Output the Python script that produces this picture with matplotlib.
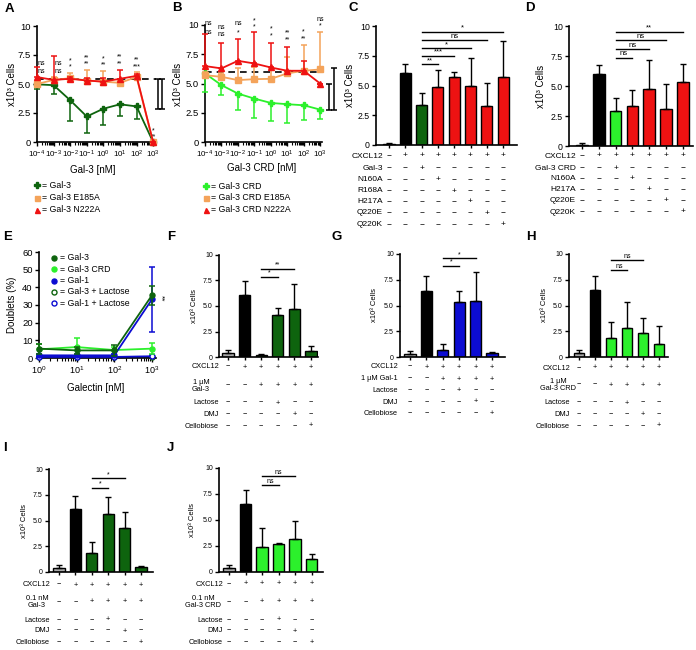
import numpy as np
import matplotlib
matplotlib.use('Agg')
import matplotlib.pyplot as plt
from matplotlib import transforms
from matplotlib.ticker import LogLocator, NullFormatter

plt.rcParams['font.family'] = ['Liberation Sans', 'DejaVu Sans']
plt.rcParams['mathtext.fontset'] = 'custom'
plt.rcParams['mathtext.rm'] = 'Liberation Sans'
plt.rcParams['mathtext.it'] = 'Liberation Sans:italic'
plt.rcParams['mathtext.bf'] = 'Liberation Sans:bold'
plt.rcParams['mathtext.default'] = 'regular'

# ---------------- data ----------------
conc = [1e-4, 1e-3, 1e-2, 1e-1, 1, 10, 100, 1000]
conc_labels = ['$10^{-4}$', '$10^{-3}$', '$10^{-2}$', '$10^{-1}$',
               '$10^{0}$', '$10^{1}$', '$10^{2}$', '$10^{3}$']

# Panel A
a_gal3 = [4.97, 4.9, 3.6, 2.2, 2.87, 3.25, 3.07, 0.0]
a_gal3_lo = [0.37, 0.8, 1.8, 1.4, 1.42, 1.0, 1.07, 0.0]
a_e185a = [5.0, 5.35, 5.5, 5.3, 5.2, 5.1, 5.6, 0.0]
a_e185a_hi = [0.3, 0.25, 0.45, 0.9, 0.9, 0.35, 0.4, 0.0]
a_n222a = [5.6, 5.35, 5.45, 5.3, 5.2, 5.45, 5.7, 0.0]
a_n222a_hi = [0.9, 2.05, 0.15, 0.2, 0.3, 0.75, 0.2, 0.0]
a_ctrl = 5.4
a_ctrl_bars = [(2.85, 5.45), (2.85, 5.45)]
a_sig_top = ['ns', 'ns', '*', '**', '*', '**', '**', '*']
a_sig_bot = ['ns', 'ns', '*', '**', '**', '**', '***', '**']
a_sig_top_y = [6.8, 6.8, 7.0, 7.25, 7.15, 7.3, 7.1, 0.95]
a_sig_bot_y = [6.1, 6.05, 6.45, 6.7, 6.65, 6.75, 6.5, 0.4]

# Panel B
b_crd = [5.86, 4.86, 4.14, 3.71, 3.34, 3.23, 3.14, 2.77]
b_crd_lo = [1.56, 0.86, 1.37, 1.62, 1.54, 1.6, 1.23, 0.77]
b_e185a = [5.71, 5.57, 5.29, 5.37, 5.4, 5.86, 6.09, 6.2]
b_e185a_hi = [0.3, 0.33, 1.0, 1.03, 0.9, 1.44, 2.21, 3.2]
b_n222a = [6.49, 6.29, 6.94, 6.71, 6.37, 6.09, 6.09, 5.0]
b_n222a_hi = [2.71, 2.21, 1.86, 2.69, 2.13, 2.05, 0.81, 0.0]
b_ctrl = 6.0
b_ctrl_bars = [(2.7, 5.0), (2.7, 6.3)]
b_sig_top = ['ns', 'ns', 'ns', '*', '*', '**', '*', 'ns']
b_sig_bot = ['ns', 'ns', '*', '*', '*', '**', '**', '*']
b_sig_top_y = [10.1, 9.75, 10.1, 10.35, 9.65, 9.3, 9.4, 10.5]
b_sig_bot_y = [9.4, 9.15, 9.35, 9.8, 9.1, 8.75, 8.85, 9.95]

# Panel C
c_means = [0.1, 6.05, 3.35, 4.85, 5.75, 4.95, 3.3, 5.7]
c_sd = [0.05, 0.73, 0.99, 1.45, 0.35, 2.33, 1.88, 3.07]
c_rows = ['CXCL12', 'Gal-3', 'N160A', 'R168A', 'H217A', 'Q220E', 'Q220K']
c_signs = ['-+++++++', '--+-----', '---+----', '----+---', '-----+--', '------+-', '-------+']
c_cmp = [(2, 3, '**', 6.78), (2, 4, '***', 7.5), (2, 5, '*', 8.12), (2, 6, 'ns', 8.82), (2, 7, '*', 9.52)]

# Panel D
d_means = [0.08, 5.97, 2.92, 3.36, 4.72, 3.11, 5.33]
d_sd = [0.17, 0.75, 1.11, 1.28, 2.47, 2.08, 1.53]
d_rows = ['CXCL12', 'Gal-3 CRD', 'N160A', 'H217A', 'Q220E', 'Q220K']
d_signs = ['-++++++', '--+----', '---+---', '----+--', '-----+-', '------+']
d_cmp = [(2, 3, 'ns', 7.36), (2, 4, 'ns', 8.05), (2, 5, 'ns', 8.8), (2, 6, '**', 9.5)]

# Panel E
e_conc = [1, 10, 100, 1000]
e_conc_labels = ['$10^{0}$', '$10^{1}$', '$10^{2}$', '$10^{3}$']
e_gal3 = [5.3, 4.3, 4.3, 35.5]
e_gal3_sd = [2.8, 2.0, 2.9, 5.5]
e_crd = [4.9, 6.2, 4.5, 5.3]
e_crd_sd = [3.0, 5.3, 2.0, 3.2]
e_gal1 = [1.5, 1.5, 1.5, 33.2]
e_gal1_sd = [0.8, 0.8, 0.8, 18.5]
e_gal3_lac = [0.8, 0.8, 0.8, 0.8]
e_gal3_lac_sd = [0.5, 0.5, 0.5, 0.5]
e_gal1_lac = [0.6, 0.6, 0.6, 1.0]
e_gal1_lac_sd = [0.4, 0.4, 0.4, 0.5]

# Panels F-J
f_means = [0.4, 6.1, 0.16, 4.14, 4.69, 0.62]
f_sd = [0.25, 1.36, 0.17, 0.71, 2.48, 0.42]
f_cmp = [(2, 3, '*', 7.85), (2, 4, '**', 8.65)]
g_means = [0.3, 6.45, 0.68, 5.38, 5.45, 0.35]
g_sd = [0.25, 1.45, 0.57, 1.07, 2.8, 0.1]
g_cmp = [(2, 3, '*', 8.85), (2, 4, '*', 9.6)]
h_means = [0.42, 6.52, 1.89, 2.77, 2.35, 1.3]
h_sd = [0.25, 1.38, 1.53, 2.6, 1.46, 1.7]
h_cmp = [(2, 3, 'ns', 8.4), (2, 4, 'ns', 9.38)]
i_means = [0.42, 6.16, 1.82, 5.63, 4.3, 0.49]
i_sd = [0.23, 1.23, 1.08, 1.63, 1.5, 0.08]
i_cmp = [(2, 3, '*', 8.2), (2, 4, '*', 9.1)]
j_means = [0.42, 6.55, 2.42, 2.65, 3.13, 1.23]
j_sd = [0.23, 1.35, 1.77, 0.15, 1.81, 0.48]
j_cmp = [(2, 3, 'ns', 8.32), (2, 4, 'ns', 9.19)]

inh_signs = ['-+++++', '--++++', '---+--', '----+-', '-----+']
f_rows = ['CXCL12', '1 µM\nGal-3', 'Lactose', 'DMJ', 'Cellobiose']
g_rows = ['CXCL12', '1 µM Gal-1', 'Lactose', 'DMJ', 'Cellobiose']
h_rows = ['CXCL12', '1 µM\nGal-3 CRD', 'Lactose', 'DMJ', 'Cellobiose']
i_rows = ['CXCL12', '0.1 nM\nGal-3', 'Lactose', 'DMJ', 'Cellobiose']
j_rows = ['CXCL12', '0.1 nM\nGal-3 CRD', 'Lactose', 'DMJ', 'Cellobiose']

# ---------------- style ----------------
DG = '#0e640e'
LG = '#2cf02c'
RED = '#ee1212'
ORG = '#f4a35a'
BLUE = '#0c0cd2'
GRAY = '#a8a8a8'

W, H = 696, 650
fig = plt.figure(figsize=(W / 100, H / 100), dpi=100)


def ax_px(l, t, r, b):
    return fig.add_axes([l / W, 1 - b / H, (r - l) / W, (b - t) / H])


def ftext(x, y, s, **kw):
    return fig.text(x / W, 1 - y / H, s, **kw)


def style(ax, fs):
    for s in ['top', 'right']:
        ax.spines[s].set_visible(False)
    for s in ['left', 'bottom']:
        ax.spines[s].set_linewidth(1.2)
    ax.tick_params(direction='out', length=3, width=1.0, labelsize=fs, pad=1.5)


def noclip(eb):
    for a in eb.lines[1]:
        a.set_clip_on(False)
    for a in eb.lines[2]:
        a.set_clip_on(False)


def series(ax, x, y, lo, hi, color, marker, ms, z, mfc=None):
    ax.plot(x, y, color=color, lw=1.3, marker=marker, ms=ms, mec=color,
            mfc=color if mfc is None else mfc, mew=1.0, clip_on=False, zorder=z + 0.5)
    eb = ax.errorbar(x, y, yerr=[lo, hi], fmt='none', ecolor=color, elinewidth=1.1,
                     capsize=2.2, capthick=1.1, zorder=z)
    noclip(eb)


def fig_marker(x, y, marker, color, ms, mfc=None):
    fig.add_artist(plt.Line2D([x / W], [1 - y / H], marker=marker, color=color, ms=ms,
                              mfc=color if mfc is None else mfc, mew=1.0,
                              linestyle='none', transform=fig.transFigure))


def log_axes(ax):
    ax.set_xscale('log')
    ax.xaxis.set_minor_locator(LogLocator(base=10, subs=np.arange(2, 10), numticks=30))
    ax.xaxis.set_minor_formatter(NullFormatter())
    ax.tick_params(axis='x', which='minor', length=1.8, width=0.8)


ylabel_cells = 'x10³ Cells'

# ---------------- Panel A ----------------
axA = ax_px(37, 26, 155, 142)
style(axA, 6.8)
log_axes(axA)
axA.set_xlim(1e-4, 1.3e3)
axA.set_ylim(0, 10)
axA.set_xticks(conc)
axA.set_xticklabels(conc_labels, fontsize=5.8)
axA.set_yticks([0, 2.5, 5, 7.5, 10])
axA.set_yticklabels(['0', '2.5', '5.0', '7.5', '10'])
axA.plot([1e-4, 1.6e3], [a_ctrl, a_ctrl], color='k', lw=1.2, dashes=(4, 3), clip_on=False, zorder=1)
for xp, (lo, hi) in zip([1.9e3, 3.4e3], a_ctrl_bars):
    eb = axA.errorbar([xp], [(lo + hi) / 2], yerr=[(hi - lo) / 2], fmt='none', ecolor='k',
                      elinewidth=1.1, capsize=2.5, capthick=1.1)
    noclip(eb)
series(axA, conc, a_gal3, a_gal3_lo, [0] * 8, DG, 'P', 4, 3)
series(axA, conc, a_e185a, [0] * 8, a_e185a_hi, ORG, 's', 3.8, 4)
series(axA, conc, a_n222a, [0] * 8, a_n222a_hi, RED, '^', 3.8, 5)
a_sig_x = [1.9e-4, 1.9e-3] + conc[2:]
for xs, t1, t2, y1, y2 in zip(a_sig_x, a_sig_top, a_sig_bot, a_sig_top_y, a_sig_bot_y):
    axA.text(xs, y1, t1, ha='center', va='center', fontsize=5, clip_on=False)
    axA.text(xs, y2, t2, ha='center', va='center', fontsize=5, clip_on=False)
ftext(12, 84, ylabel_cells, rotation=90, ha='center', va='center', fontsize=7)
ftext(93, 170, 'Gal-3 [nM]', ha='center', va='center', fontsize=7)
fig_marker(37, 185, 'P', DG, 3.8)
fig_marker(37, 198, 's', ORG, 3.6)
fig_marker(37, 210, '^', RED, 3.6)
ftext(42, 185, '= Gal-3', ha='left', va='center', fontsize=6.3)
ftext(42, 198, '= Gal-3 E185A', ha='left', va='center', fontsize=6.3)
ftext(42, 210, '= Gal-3 N222A', ha='left', va='center', fontsize=6.3)

# ---------------- Panel B ----------------
axB = ax_px(205, 25, 322, 142)
style(axB, 6.8)
log_axes(axB)
axB.set_xlim(1e-4, 1.3e3)
axB.set_ylim(0, 10)
axB.set_xticks(conc)
axB.set_xticklabels(conc_labels, fontsize=5.8)
axB.set_yticks([0, 2.5, 5, 7.5, 10])
axB.set_yticklabels(['0', '2.5', '5.0', '7.5', '10'])
axB.plot([1e-4, 1.6e3], [b_ctrl, b_ctrl], color='k', lw=1.2, dashes=(4, 3), clip_on=False, zorder=1)
for xp, (lo, hi) in zip([3.3e3, 7.4e3], b_ctrl_bars):
    eb = axB.errorbar([xp], [(lo + hi) / 2], yerr=[(hi - lo) / 2], fmt='none', ecolor='k',
                      elinewidth=1.1, capsize=2.5, capthick=1.1)
    noclip(eb)
series(axB, conc, b_crd, b_crd_lo, [0] * 8, LG, 'P', 4, 3)
series(axB, conc, b_e185a, [0] * 8, b_e185a_hi, ORG, 's', 3.8, 4)
series(axB, conc, b_n222a, [0] * 8, b_n222a_hi, RED, '^', 3.8, 5)
b_sig_x = [1.6e-4] + conc[1:]
for xs, t1, t2, y1, y2 in zip(b_sig_x, b_sig_top, b_sig_bot, b_sig_top_y, b_sig_bot_y):
    axB.text(xs, y1, t1, ha='center', va='center', fontsize=5, clip_on=False)
    axB.text(xs, y2, t2, ha='center', va='center', fontsize=5, clip_on=False)
ftext(178, 84, ylabel_cells, rotation=90, ha='center', va='center', fontsize=7)
ftext(262, 168, 'Gal-3 CRD [nM]', ha='center', va='center', fontsize=7)
fig_marker(206, 186, 'P', LG, 3.8)
fig_marker(206, 198, 's', ORG, 3.6)
fig_marker(206, 210, '^', RED, 3.6)
ftext(211, 186, '= Gal-3 CRD', ha='left', va='center', fontsize=6.3)
ftext(211, 198, '= Gal-3 CRD E185A', ha='left', va='center', fontsize=6.3)
ftext(211, 210, '= Gal-3 CRD N222A', ha='left', va='center', fontsize=6.3)


# ---------------- bar panels ----------------
def bar_panel(rect, x0, dx, means, sd, colors, cmp, rows, signs, row_y, row_x, row_ha,
              fs_tick, fs_row, fs_sig, ylab_x, ylab_fs):
    l, t, r, b = rect
    ax = ax_px(l, t, r, b)
    style(ax, fs_tick)
    n = len(means)
    x = np.arange(n)
    ax.set_xlim((l - x0) / dx, (r - x0) / dx)
    ax.set_ylim(0, 10)
    ax.bar(x, means, width=0.68, color=colors, edgecolor='black', linewidth=1.0, zorder=2)
    eb = ax.errorbar(x, means, yerr=[np.zeros(n), sd], fmt='none', ecolor='black',
                     elinewidth=1.0, capsize=2.0, capthick=1.0, zorder=3)
    noclip(eb)
    ax.set_xticks(x)
    ax.set_xticklabels([])
    ax.tick_params(axis='x', length=2.5)
    ax.set_yticks([0, 2.5, 5, 7.5, 10])
    ax.set_yticklabels(['0', '2.5', '5.0', '7.5', '10'])
    for i, j, s, y in cmp:
        ax.plot([i, j], [y, y], color='k', lw=1.0, clip_on=False)
        ax.text((i + j) / 2, y + 0.02, s, ha='center', va='bottom', fontsize=fs_sig, clip_on=False)
    tr = transforms.blended_transform_factory(ax.transData, fig.transFigure)
    for lab, sg, y, lx, ha in zip(rows, signs, row_y, row_x, row_ha):
        ftext(lx, y, lab, ha=ha, va='center', fontsize=fs_row, multialignment='center',
              linespacing=1.0)
        for k, c in enumerate(sg):
            ax.text(k, 1 - y / H, '\u2212' if c == '-' else '+', transform=tr, ha='center',
                    va='center', fontsize=fs_row, clip_on=False)
    ftext(ylab_x, (t + b) / 2, ylabel_cells, rotation=90, ha='center', va='center', fontsize=ylab_fs)
    return ax


c_colors = [GRAY, 'black', DG] + [RED] * 5
bar_panel((376, 26, 517, 145), 389, 16.3, c_means, c_sd, c_colors, c_cmp, c_rows, c_signs,
          [156, 168, 179.5, 191, 202, 213, 224.5], [383] * 7, ['right'] * 7,
          6.3, 6.0, 5.5, 350, 7)

d_colors = [GRAY, 'black', LG] + [RED] * 4
bar_panel((569, 26, 693, 146), 582, 16.8, d_means, d_sd, d_colors, d_cmp, d_rows, d_signs,
          [156, 168, 178.5, 189.5, 200.5, 212], [576] * 6, ['right'] * 6,
          6.3, 6.0, 5.5, 541, 7)

bar_panel((219, 255, 318, 357), 228, 16.6, f_means, f_sd, [GRAY, 'black'] + [DG] * 4, f_cmp,
          f_rows, inh_signs, [367, 386, 403, 414.5, 426], [219, 201, 219, 219, 219],
          ['right', 'center', 'right', 'right', 'right'], 5.0, 5.3, 5.0, 194, 5.5)

bar_panel((400, 254, 505, 357), 410, 16.4, g_means, g_sd, [GRAY, 'black'] + [BLUE] * 4, g_cmp,
          g_rows, inh_signs, [367, 379, 390.5, 402, 413.5], [398] * 5, ['right'] * 5,
          5.0, 5.3, 5.0, 374, 5.5)

bar_panel((569, 254, 668, 357), 579, 16.0, h_means, h_sd, [GRAY, 'black'] + [LG] * 4, h_cmp,
          h_rows, inh_signs, [368, 385, 403, 414.5, 426], [570, 558, 570, 570, 570],
          ['right', 'center', 'right', 'right', 'right'], 5.0, 5.3, 5.0, 544, 5.5)

bar_panel((49, 469, 153, 572), 59, 16.4, i_means, i_sd, [GRAY, 'black'] + [DG] * 4, i_cmp,
          i_rows, inh_signs, [585, 602, 620, 631, 642.5], [50, 37, 50, 50, 50],
          ['right', 'center', 'right', 'right', 'right'], 5.0, 5.3, 5.0, 24, 5.5)

bar_panel((219, 468, 323, 572), 229, 16.5, j_means, j_sd, [GRAY, 'black'] + [LG] * 4, j_cmp,
          j_rows, inh_signs, [584, 602, 620, 631, 642.5], [223, 203, 223, 223, 223],
          ['right', 'center', 'right', 'right', 'right'], 5.0, 5.3, 5.0, 192, 5.5)

# ---------------- Panel E ----------------
axE = ax_px(39, 252, 156, 358)
style(axE, 6.8)
log_axes(axE)
axE.set_xlim(1, 1.28e3)
axE.set_ylim(0, 60)
axE.set_xticks(e_conc)
axE.set_xticklabels(e_conc_labels, fontsize=6.5)
axE.set_yticks([0, 10, 20, 30, 40, 50, 60])
series(axE, e_conc, e_gal3_lac, e_gal3_lac_sd, e_gal3_lac_sd, DG, 'o', 3.6, 2, mfc='white')
series(axE, e_conc, e_gal1_lac, e_gal1_lac_sd, e_gal1_lac_sd, BLUE, 'o', 3.6, 2.2, mfc='white')
series(axE, e_conc, e_crd, e_crd_sd, e_crd_sd, LG, 'o', 3.6, 3)
series(axE, e_conc, e_gal1, e_gal1_sd, e_gal1_sd, BLUE, 'o', 3.6, 4)
series(axE, e_conc, e_gal3, e_gal3_sd, e_gal3_sd, DG, 'o', 3.6, 5)
axE.text(1.75e3, 34, '**', rotation=-90, ha='center', va='center', fontsize=6, clip_on=False)
ftext(12, 305, 'Doublets (%)', rotation=90, ha='center', va='center', fontsize=7)
ftext(96, 388, 'Galectin [nM]', ha='center', va='center', fontsize=7)
e_leg = [('= Gal-3', DG, None), ('= Gal-3 CRD', LG, None), ('= Gal-1', BLUE, None),
         ('= Gal-3 + Lactose', DG, 'white'), ('= Gal-1 + Lactose', BLUE, 'white')]
for k, (lab, col, mfc) in enumerate(e_leg):
    yy = 258 + k * 11.3
    fig_marker(54, yy, 'o', col, 3.6, mfc)
    ftext(60, yy, lab, ha='left', va='center', fontsize=6.3)

# ---------------- panel letters ----------------
for lt, x, y in [('A', 9, 9), ('B', 177, 8), ('C', 353, 8), ('D', 530, 8),
                 ('E', 8, 237), ('F', 171, 237), ('G', 337, 237), ('H', 531, 237),
                 ('I', 5, 448), ('J', 170, 448)]:
    ftext(x, y, lt, ha='center', va='center', fontsize=9.5, fontweight='bold')

fig.savefig('out.png', dpi=100)
